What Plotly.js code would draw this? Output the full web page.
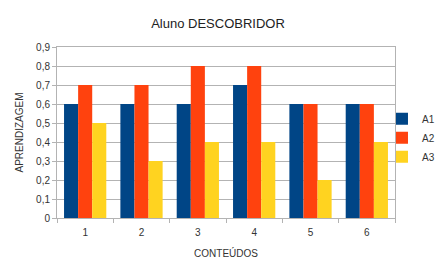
<!DOCTYPE html>
<html><head><meta charset="utf-8">
<script src="https://cdn.plot.ly/plotly-3.0.1.min.js"></script>
<style>html,body{margin:0;padding:0;background:#fff}#c{width:436px;height:273px}</style>
</head><body><div id="c"></div>
<script>
const categories = ["1","2","3","4","5","6"];
const seriesNames = ["A1","A2","A3"];
const A1 = [0.6,0.6,0.6,0.7,0.6,0.6];
const A2 = [0.7,0.7,0.8,0.8,0.6,0.6];
const A3 = [0.5,0.3,0.4,0.4,0.2,0.4];
const colors = ["#004586","#ff420e","#ffd320"];
const values = [A1,A2,A3];
const traces = values.map((v,i)=>({type:"bar",name:seriesNames[i],x:categories,y:v,marker:{color:colors[i]},hoverinfo:"none"}));
const layout = {
  width:436,height:273,
  margin:{l:57,r:41,t:47,b:55,autoexpand:false},
  paper_bgcolor:"#fff",plot_bgcolor:"#fff",
  separators:",.",
  font:{family:"Liberation Sans, Arial, sans-serif",size:10,color:"#333"},
  title:{text:"Aluno DESCOBRIDOR",font:{size:13,color:"#222"},x:0.5,xanchor:"center",y:0.915,yanchor:"middle"},
  barmode:"group",bargap:0.25,bargroupgap:0,
  xaxis:{type:"category",tickson:"boundaries",ticks:"outside",ticklen:4,tickcolor:"#b3b3b3",ticklabelstandoff:5,
    showline:true,linecolor:"#b3b3b3",mirror:true,showgrid:false,
    title:{text:"CONTEÚDOS",font:{size:10,color:"#333"},standoff:12}},
  yaxis:{range:[0,0.9],dtick:0.1,tickformat:".1~f",ticks:"outside",ticklen:4,tickcolor:"#b3b3b3",
    showline:true,linecolor:"#b3b3b3",mirror:true,gridcolor:"#b3b3b3",gridwidth:1,zeroline:false,
    title:{text:"APRENDIZAGEM",font:{size:10,color:"#333"},standoff:10}},
  legend:{x:0.9615,xanchor:"left",y:0.47,yanchor:"middle",font:{size:10,color:"#333"},itemwidth:30,traceorder:"normal",bgcolor:"rgba(0,0,0,0)"},
  showlegend:true
};
Plotly.newPlot("c",traces,layout,{displayModeBar:false,staticPlot:true});
</script></body></html>
